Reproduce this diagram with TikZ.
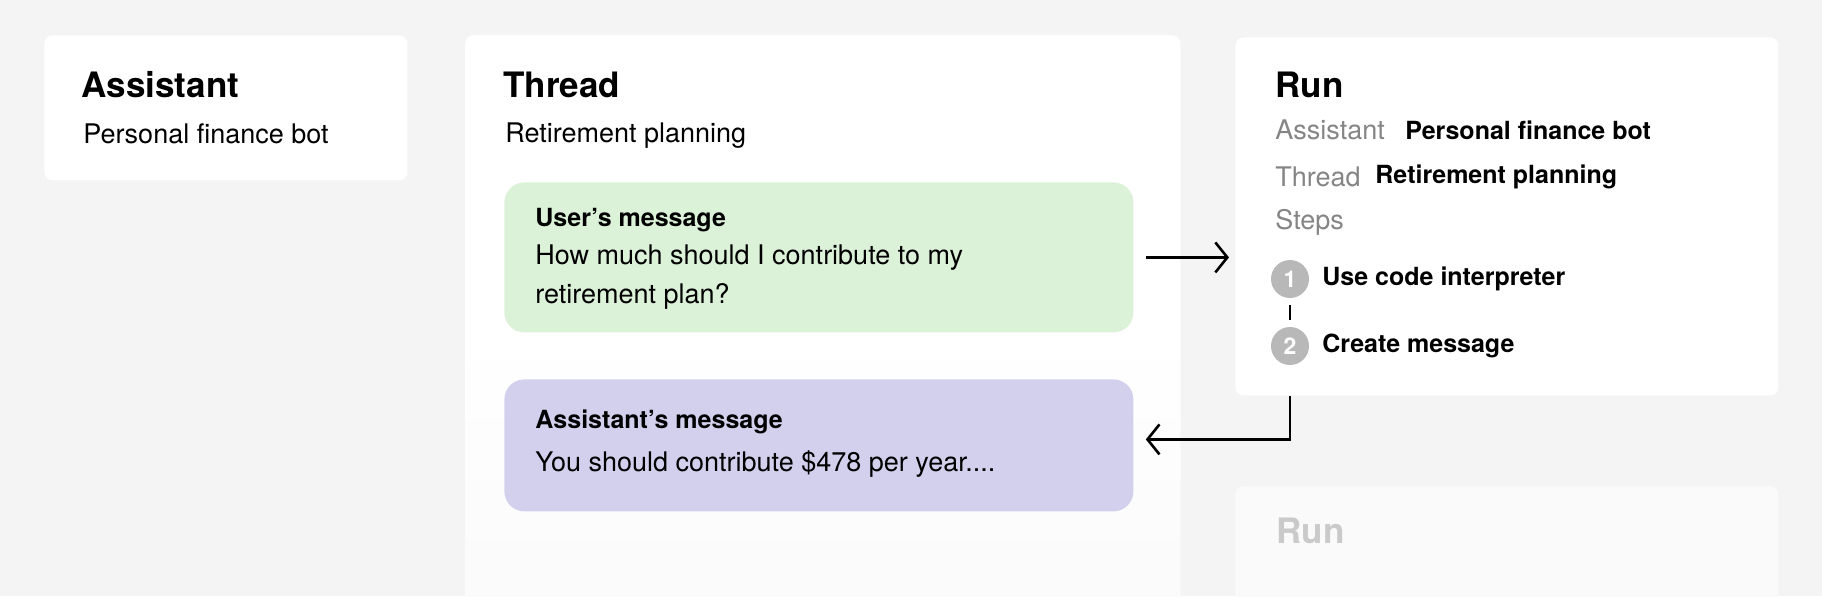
\documentclass[tikz,border=0pt]{standalone}
\usepackage{fontspec}
\setmainfont{TeX Gyre Heros}
\usetikzlibrary{positioning,arrows.meta}
\definecolor{pagebg}{HTML}{F4F4F4}
\definecolor{usergreen}{HTML}{DCF2D8}
\definecolor{botpurple}{HTML}{D3D0EE}
\definecolor{labelgrey}{HTML}{858585}
\definecolor{stepgrey}{HTML}{B8B8B8}
\definecolor{ghostgrey}{HTML}{CACACA}
\tikzset{>={Straight Barb[length=6pt,width=15pt]}}
\tikzset{
  card/.style={fill=white, rounded corners=4pt, anchor=north west, inner sep=0pt},
  bubble/.style={rounded corners=10pt, anchor=north west, inner sep=0pt},
  title/.style={anchor=west, inner sep=0pt, font=\fontsize{17.5}{20}\selectfont\bfseries},
  body/.style={anchor=west, inner sep=0pt, font=\fontsize{13.5}{16}\selectfont},
  key/.style={body, text=labelgrey},
  val/.style={anchor=west, inner sep=0pt, font=\fontsize{12.5}{15}\selectfont\bfseries},
  stepdot/.style={circle, fill=stepgrey, text=white, minimum size=19pt, inner sep=0pt,
    font=\fontsize{11.5}{11.5}\selectfont\bfseries},
  flow/.style={->, line width=1.3pt}
}

\begin{document}
\begin{tikzpicture}[x=0.5pt,y=-0.5pt]
  \fill[pagebg] (0,0) rectangle (1822,596);
  \useasboundingbox (0,0) rectangle (1822,596);

  % cards
  \node[card, minimum width=181.5pt, minimum height=72.5pt] (asst) at (44,35) {};
  \node[card, top color=white, bottom color=pagebg!45!white, middle color=white,
    minimum width=357.5pt, minimum height=295pt] (thread) at (465,35) {};
  \node[card, minimum width=271.5pt, minimum height=179pt] (run) at (1235,37) {};
  \node[card, fill=white!55!pagebg, minimum width=271.5pt, minimum height=67pt] (ghost) at (1235,486) {};

  % assistant
  \node[title] (asstname) at (81,85) {Assistant};
  \node[body] (asstdesc) at (83,134) {Personal finance bot};

  % thread
  \node[title] (threadname) at (503,85) {Thread};
  \node[body] (threaddesc) at (505,136) {Retirement planning};
  \node[bubble, fill=usergreen, minimum width=314.5pt, minimum height=75pt] (usermsg) at (504,182) {};
  \node[bubble, fill=botpurple, minimum width=314.5pt, minimum height=66pt] (botmsg) at (504,379) {};
  \node[val] (userhead) at (535,220) {User's message};
  \node[body] (userline1) at (535,258) {How much should I contribute to my};
  \node[body] (userline2) at (535,296) {retirement plan?};
  \node[val] (bothead) at (535,422) {Assistant's message};
  \node[body] (botline) at (535,464) {You should contribute \$478 per year....};

  % run
  \node[title] (runname) at (1275,85) {Run};
  \node[key] (runasstkey) at (1275,130) {Assistant};
  \node[val] (runasstval) at (1405,130) {Personal finance bot};
  \node[key] (runthreadkey) at (1275,177) {Thread};
  \node[val] (runthreadval) at (1375,177) {Retirement planning};
  \node[key] (stepskey) at (1275,222) {Steps};
  \node[stepdot] (dotone) at (1290,279) {1};
  \node[val] (stepone) at (1322,279) {Use code interpreter};
  \node[stepdot] (dottwo) at (1290,346) {2};
  \node[val] (steptwo) at (1322,346) {Create message};
  \draw[line width=1.3pt, shorten <=3.5pt, shorten >=3.5pt] (dotone) -- (dottwo);

  \node[title, text=ghostgrey] (ghostname) at (1276,531) {Run};

  % arrows
  \draw[flow, shorten <=6pt, shorten >=3pt] (usermsg.east) -- (usermsg.east -| run.west);
  \draw[flow] (dottwo |- run.south) |- ([xshift=6pt,yshift=3pt]botmsg.east);
\end{tikzpicture}
\end{document}
